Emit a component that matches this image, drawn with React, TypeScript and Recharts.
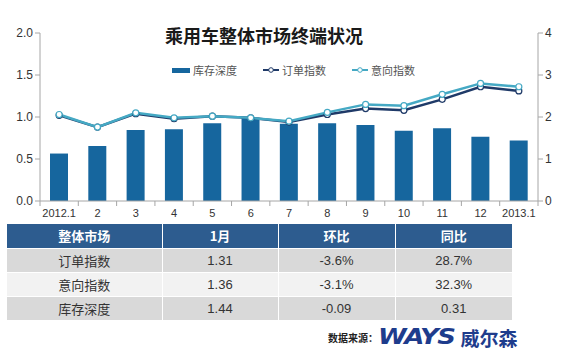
import React from "react";
import { ComposedChart, Bar, Line, XAxis, YAxis } from "recharts";

const months = ["2012.1", "2", "3", "4", "5", "6", "7", "8", "9", "10", "11", "12", "2013.1"];
const stockDepth = [1.13, 1.31, 1.69, 1.71, 1.85, 1.98, 1.84, 1.85, 1.81, 1.67, 1.73, 1.53, 1.44];
const orderIndex = [1.02, 0.88, 1.04, 0.98, 1.01, 0.99, 0.94, 1.03, 1.1, 1.08, 1.21, 1.36, 1.31];
const intentIndex = [1.03, 0.88, 1.05, 0.99, 1.01, 0.99, 0.95, 1.055, 1.15, 1.135, 1.27, 1.4, 1.36];

const leftTicks = [0, 0.5, 1, 1.5, 2];
const rightTicks = [0, 1, 2, 3, 4];

const tableHeader = ["整体市场", "1月", "环比", "同比"];
const tableRows = [
  ["订单指数", "1.31", "-3.6%", "28.7%"],
  ["意向指数", "1.36", "-3.1%", "32.3%"],
  ["库存深度", "1.44", "-0.09", "0.31"],
];

const BAR = "#16669E";
const DARK = "#1F3A68";
const LIGHT = "#45A9C4";
const FONT = '"Liberation Sans", Arial, "Noto Sans CJK SC", sans-serif';
const CJK = '"Noto Sans CJK SC", "Liberation Sans", sans-serif';

const data = months.map((m, i) => ({
  month: m,
  stock: stockDepth[i],
  order: orderIndex[i],
  intent: intentIndex[i],
}));

// category labels centred, tick marks on the band edges like Excel
function MonthTick(props: any) {
  const { x, y, payload, index, width, visibleTicksCount } = props;
  const band = width / visibleTicksCount;
  return (
    <g>
      <line x1={x - band / 2} y1={y - 8} x2={x - band / 2} y2={y - 3} stroke="#a6a6a6" />
      {index === visibleTicksCount - 1 && (
        <line x1={x + band / 2} y1={y - 8} x2={x + band / 2} y2={y - 3} stroke="#a6a6a6" />
      )}
      <text x={x} y={y + 8} textAnchor="middle" fontSize={11} fill="#333" fontFamily={FONT}>
        {payload.value}
      </text>
    </g>
  );
}

function LegendItem({ kind, color, label }: { kind: "bar" | "line"; color: string; label: string }) {
  return (
    <div style={{ display: "flex", alignItems: "center", marginRight: 26 }}>
      {kind === "bar" ? (
        <div style={{ width: 18, height: 5, background: color, marginRight: 3 }} />
      ) : (
        <svg width={16} height={8} style={{ marginRight: 3 }}>
          <line x1={0} y1={4} x2={16} y2={4} stroke={color} strokeWidth={2} />
          <circle cx={8} cy={4} r={2.3} fill="#fff" stroke={color} strokeWidth={1} />
        </svg>
      )}
      <span style={{ fontSize: 11, color: "#555", fontFamily: CJK }}>{label}</span>
    </div>
  );
}

export default function App() {
  const dot = (c: string) => ({ r: 3, fill: "#fff", stroke: c, strokeWidth: 1.2 });
  return (
    <div style={{ position: "relative", width: 563, height: 356, background: "#fff", overflow: "hidden" }}>
      <style>{`body{margin:0}`}</style>

      <ComposedChart width={563} height={225} data={data} margin={{ top: 33, right: 0, left: 0, bottom: 0 }}>
        <XAxis
          dataKey="month"
          xAxisId="x"
          stroke="#a6a6a6"
          tickLine={false}
          height={24}
          tick={<MonthTick />}
          interval={0}
        />
        <YAxis
          yAxisId="left"
          domain={[0, 2]}
          ticks={leftTicks}
          width={40}
          stroke="#a6a6a6"
          tickSize={5}
          tickFormatter={(v: number) => v.toFixed(1)}
          tick={{ fontSize: 12, fill: "#333", fontFamily: FONT }}
        />
        <YAxis
          yAxisId="right"
          orientation="right"
          domain={[0, 4]}
          ticks={rightTicks}
          width={25}
          stroke="#a6a6a6"
          tickSize={5}
          tick={{ fontSize: 12, fill: "#333", fontFamily: FONT }}
        />
        <Bar dataKey="stock" xAxisId="x" yAxisId="right" fill={BAR} barSize={18} isAnimationActive={false} />
        <Line dataKey="order" xAxisId="x" yAxisId="left" stroke={DARK} strokeWidth={2.5} dot={dot(DARK)} isAnimationActive={false} />
        <Line dataKey="intent" xAxisId="x" yAxisId="left" stroke={LIGHT} strokeWidth={2.5} dot={dot(LIGHT)} isAnimationActive={false} />
      </ComposedChart>

      <div style={{ position: "absolute", left: 0, width: 528, top: 22, textAlign: "center", fontSize: 18, fontWeight: 700, color: "#1a1a1a", fontFamily: CJK }}>
        乘用车整体市场终端状况
      </div>

      <div style={{ position: "absolute", left: 172, top: 62, display: "flex" }}>
        <LegendItem kind="bar" color={BAR} label="库存深度" />
        <LegendItem kind="line" color={DARK} label="订单指数" />
        <LegendItem kind="line" color={LIGHT} label="意向指数" />
      </div>

      <table
        style={{
          position: "absolute", left: 7, top: 224, width: 505, borderCollapse: "collapse",
          tableLayout: "fixed", fontFamily: FONT,
        }}
      >
        <colgroup>
          <col style={{ width: 155 }} />
          <col style={{ width: 116 }} />
          <col style={{ width: 117 }} />
          <col style={{ width: 117 }} />
        </colgroup>
        <thead>
          <tr style={{ height: 24, background: "#2D5C8F" }}>
            {tableHeader.map((h, i) => (
              <th key={i} style={{ color: "#fff", fontSize: 13, fontWeight: 700, padding: 0, borderLeft: i ? "1px solid #fff" : "none", fontFamily: CJK }}>
                {h}
              </th>
            ))}
          </tr>
        </thead>
        <tbody>
          {tableRows.map((row, r) => (
            <tr key={r} style={{ height: 24, background: r % 2 === 0 ? "#D9D9D9" : "#F2F2F2" }}>
              {row.map((c, i) => (
                <td key={i} style={{ textAlign: "center", fontSize: 13, color: "#333", padding: 0, borderLeft: i ? "1px solid #fff" : "none", borderTop: "1px solid #fff", fontFamily: i === 0 ? CJK : FONT }}>
                  {c}
                </td>
              ))}
            </tr>
          ))}
        </tbody>
      </table>

      <div style={{ position: "absolute", left: 328, top: 322, height: 30, display: "flex", alignItems: "center" }}>
        <span style={{ fontSize: 10, fontWeight: 700, color: "#222", fontFamily: CJK }}>数据来源：</span>
        <span style={{ fontSize: 26, fontWeight: 900, fontStyle: "italic", color: "#1E3C8C", fontFamily: '"DejaVu Sans", sans-serif', letterSpacing: -1.5, transform: "scaleY(0.8)", display: "inline-block" }}>WAYS</span>
        <span style={{ fontSize: 19, fontWeight: 700, color: "#1E3C8C", fontFamily: CJK, marginLeft: 6 }}>威尔森</span>
      </div>
    </div>
  );
}
